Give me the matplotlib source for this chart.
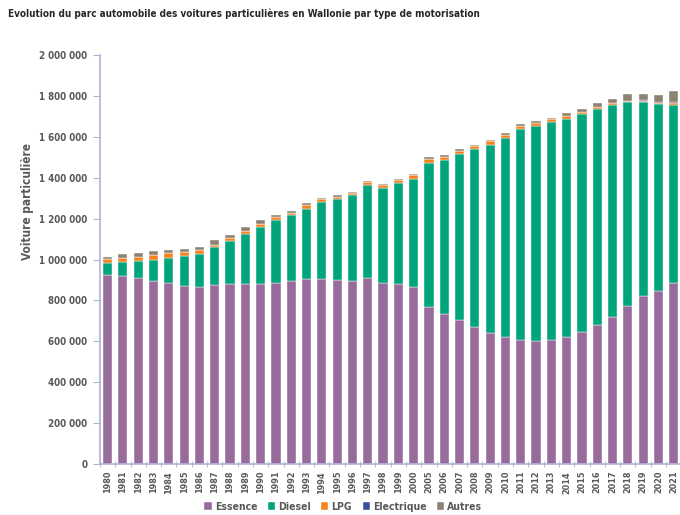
import matplotlib.pyplot as plt
import matplotlib.ticker as mticker
from matplotlib.font_manager import fontManager

years = [str(y) for y in range(1980, 2001)] + [str(y) for y in range(2005, 2022)]

# valeurs en milliers de voitures
essence = [924, 920, 908, 895, 884, 870, 864, 875, 880, 880, 880,
           884, 893, 903, 906, 900, 895, 908, 884, 880, 867,
           769, 733, 704, 668, 642, 619, 606, 601, 606, 623, 647,
           680, 717, 773, 822, 848, 884]
diesel = [60, 69, 85, 103, 122, 149, 161, 185, 209, 245, 280,
          309, 323, 342, 375, 397, 419, 458, 467, 494, 525,
          701, 754, 810, 871, 919, 978, 1032, 1052, 1066, 1064, 1063,
          1057, 1037, 997, 951, 912, 870]
lpg = [17, 20, 21, 24, 24, 18, 21, 12, 16, 13, 14,
       13, 13, 20, 13, 10, 11, 14, 13, 15, 20,
       23, 16, 18, 16, 17, 13, 15, 16, 14, 15, 11,
       10, 10, 5, 4, 7, 10]
electrique = [0, 0, 0, 0, 0, 0, 0, 0, 0, 0, 0,
              0, 0, 0, 0, 0, 0, 0, 0, 0, 0,
              0, 0, 0, 0, 0, 0, 0, 0, 0, 0, 0,
              0, 0, 1, 3, 5, 6]
autres = [13, 18, 19, 21, 16, 16, 17, 23, 16, 19, 19,
          13, 10, 10, 7, 7, 5, 5, 7, 6, 6,
          10, 10, 7, 6, 8, 9, 10, 8, 6, 13, 13,
          17, 19, 33, 31, 34, 56]

series = [("Essence", essence, "#976c9c"),
          ("Diesel", diesel, "#00a57c"),
          ("LPG", lpg, "#f5821f"),
          ("Electrique", electrique, "#3d4f9b"),
          ("Autres", autres, "#8b8272")]

# police étroite si disponible
font, stretch = "Roboto", "normal"
for f in fontManager.ttflist:
    if f.stretch in ("condensed", "semi-condensed") or "Condensed" in f.name or "Narrow" in f.name:
        font, stretch = f.name, f.stretch
        break
plt.rcParams['font.family'] = [font, 'DejaVu Sans']
plt.rcParams['font.stretch'] = stretch

grey = "#595959"
axis_col = "#b3b0d6"

fig = plt.figure(figsize=(6.8, 5.15), dpi=100)
ax = fig.add_axes([0.147, 0.099, 0.855, 0.794])

x = list(range(len(years)))
bottom = [0] * len(years)
for name, vals, col in series:
    ax.bar(x, [v * 1000 for v in vals], 0.6, bottom=bottom, color=col,
           label=name, edgecolor="#ffffff", linewidth=0.3)
    bottom = [b + v * 1000 for b, v in zip(bottom, vals)]

ax.set_xlim(-0.5, len(years) - 0.5)
ax.set_ylim(0, 2000000)
ax.set_yticks(range(0, 2000001, 200000))
ax.yaxis.set_major_formatter(mticker.FuncFormatter(lambda v, p: f"{int(v):,}".replace(",", " ")))
ax.set_xticks(x)
ax.set_xticklabels(years, rotation=90)
ax.set_xticks([i - 0.5 for i in range(len(years) + 1)], minor=True)
ax.tick_params(axis='x', which='major', length=0, pad=5, labelsize=6.5, labelcolor=grey)
ax.tick_params(axis='x', which='minor', length=4, color=axis_col, direction='inout')
ax.tick_params(axis='y', length=5, color=axis_col, labelsize=7, labelcolor=grey, pad=4)
for lbl in ax.get_xticklabels() + ax.get_yticklabels():
    lbl.set_fontweight('bold')

for s in ['top', 'right']:
    ax.spines[s].set_visible(False)
for s in ['left', 'bottom']:
    ax.spines[s].set_color(axis_col)
    ax.spines[s].set_linewidth(1.2)

title = fig.text(8 / 680, 1 - 14 / 515,
                 "Evolution du parc automobile des voitures particulières en Wallonie par type de motorisation",
                 fontsize=10, fontweight='bold', color="#262626", va='center', ha='left')
ylab = fig.text(27 / 680, 1 - 201 / 515, "Voiture particulière", rotation=90, fontsize=9,
                fontweight='bold', color=grey, va='center', ha='center')

# ajuster la taille des textes à la largeur du modèle
renderer = fig.canvas.get_renderer()
w = title.get_window_extent(renderer).width
title.set_fontsize(10 * 467 / w)
h = ylab.get_window_extent(renderer).height
ylab.set_fontsize(9 * 117 / h)

leg = fig.legend(loc='center', bbox_to_anchor=(0.505, 0.016), ncol=5, frameon=False,
                 handlelength=0.7, handleheight=0.7, handletextpad=0.3, columnspacing=1.0,
                 prop={'size': 7.5, 'weight': 'bold'})
for t in leg.get_texts():
    t.set_color(grey)

fig.savefig("out.png", dpi=100)
